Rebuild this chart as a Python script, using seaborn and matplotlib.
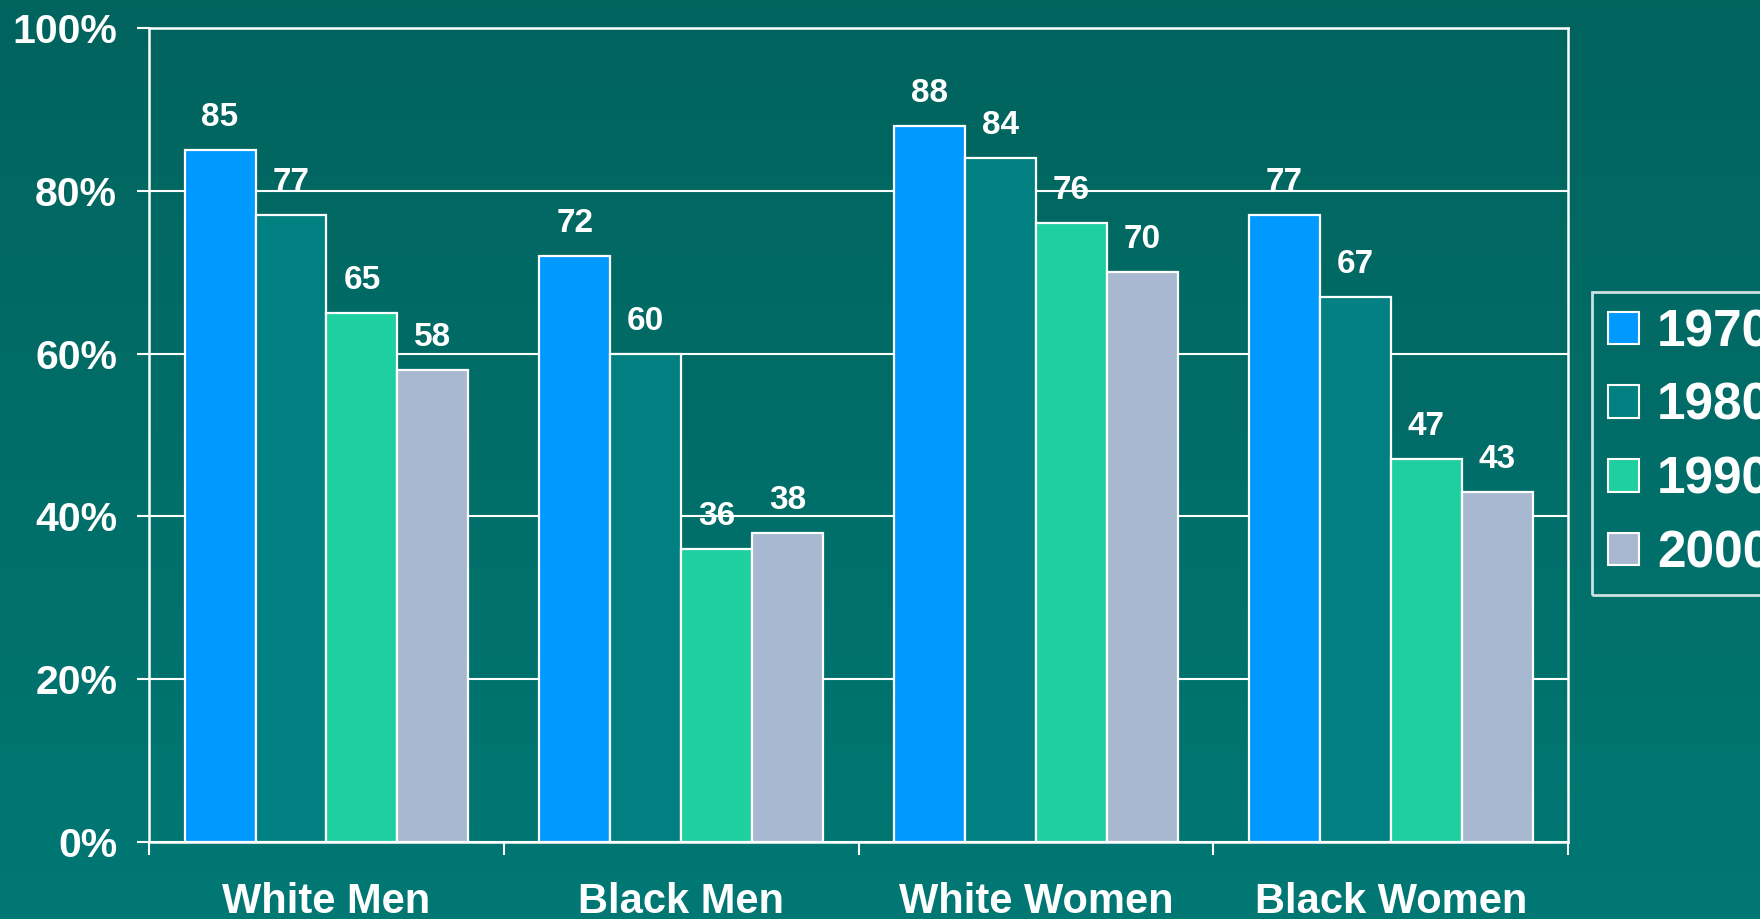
import numpy as np
import pandas as pd
import seaborn as sns
import matplotlib.pyplot as plt
from matplotlib.colors import LinearSegmentedColormap

groups = ['White Men', 'Black Men', 'White Women', 'Black Women']
years = ['1970', '1980', '1990', '2000']
v1970 = [85, 72, 88, 77]
v1980 = [77, 60, 84, 67]
v1990 = [65, 36, 76, 47]
v2000 = [58, 38, 70, 43]
yticks = [0, 20, 40, 60, 80, 100]
colors = ['#0099FF', '#008080', '#1ECFA0', '#A8B8D0']

df = pd.DataFrame({
    'group': groups * 4,
    'year': [y for y in years for _ in groups],
    'value': v1970 + v1980 + v1990 + v2000,
})

sns.set_theme(style='white')
plt.rcParams['font.family'] = ['Liberation Sans', 'DejaVu Sans']
plt.rcParams['font.weight'] = 'bold'

bg = '#03665F'
fig = plt.figure(figsize=(17.6, 9.19), dpi=100, facecolor=bg)

# subtle background gradient
bax = fig.add_axes([0, 0, 1, 1], zorder=-5)
grad = np.linspace(0, 1, 256).reshape(-1, 1)
cm = LinearSegmentedColormap.from_list('bg', ['#02635D', '#007874'])
bax.imshow(grad, aspect='auto', cmap=cm, extent=[0, 1, 0, 1], origin='upper')
bax.axis('off')

ax = fig.add_axes([0.0847, 0.0838, 0.8063, 0.8857])
ax.set_facecolor('none')

sns.barplot(data=df, x='group', y='value', hue='year', palette=colors,
            width=0.8, edgecolor='white', linewidth=1.6, saturation=1,
            ax=ax, legend=False, zorder=3)

# value labels above bars
for cont in ax.containers:
    for bar in cont:
        h = bar.get_height()
        ax.annotate(f'{h:.0f}', (bar.get_x() + bar.get_width() / 2, h),
                    xytext=(0, 17), textcoords='offset pixels',
                    ha='center', va='bottom', color='white',
                    fontsize=24, fontweight='bold', zorder=5)

ax.set_ylim(0, 100)
ax.set_xlim(-0.5, 3.5)
ax.set_yticks(yticks)
ax.set_yticklabels([f'{t}%' for t in yticks])
ax.yaxis.grid(True, color='white', linewidth=1.5, zorder=0)
ax.set_axisbelow(True)
ax.set_xlabel('')
ax.set_ylabel('')

ax.set_xticks(range(4))
ax.set_xticklabels(groups)
ax.set_xticks([-0.5, 0.5, 1.5, 2.5, 3.5], minor=True)
ax.tick_params(axis='x', which='major', length=0, pad=29, labelsize=30,
               labelcolor='white')
ax.tick_params(axis='x', which='minor', length=9, width=1.5, color='white',
               direction='out', bottom=True)
ax.tick_params(axis='y', length=9, width=1.5, color='white', left=True,
               direction='out', pad=14, labelsize=29.5, labelcolor='white')
for lab in ax.get_xticklabels() + ax.get_yticklabels():
    lab.set_fontweight('bold')

for s in ax.spines.values():
    s.set_visible(True)
    s.set_color('white')
    s.set_linewidth(1.8)

handles = [plt.Rectangle((0, 0), 1, 1, facecolor=c, edgecolor='white',
                         linewidth=1.5) for c in colors]
leg = fig.legend(handles, years, loc='upper left',
                 bbox_to_anchor=(0.9045, 0.6825), frameon=True, fancybox=False,
                 prop={'size': 37, 'weight': 'bold'}, labelcolor='white',
                 handlelength=0.6, handleheight=0.6, handletextpad=0.35,
                 labelspacing=0.48, borderpad=0.32, borderaxespad=0)
leg.get_frame().set_facecolor('none')
leg.get_frame().set_edgecolor('white')
leg.get_frame().set_linewidth(2)

fig.savefig('out.png', dpi=100, facecolor=fig.get_facecolor())
